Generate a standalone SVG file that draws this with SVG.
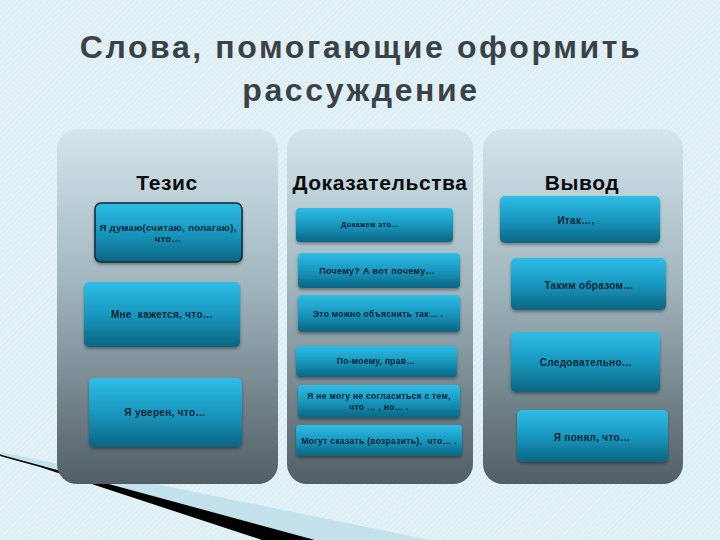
<svg xmlns="http://www.w3.org/2000/svg" width="720" height="540" viewBox="0 0 720 540">
<defs>
<pattern id="stripes" width="4" height="4" patternUnits="userSpaceOnUse" patternTransform="rotate(45)">
<rect width="4" height="4" fill="#ddeff5"/>
<line x1="0" y1="0" x2="0" y2="4" stroke="#ffffff" stroke-width="1.2" opacity="0.55"/>
</pattern>
<linearGradient id="panelG" x1="0" y1="0" x2="0" y2="1">
<stop offset="0" stop-color="#d3e6ec"/>
<stop offset="0.45" stop-color="#a0b4bc"/>
<stop offset="1" stop-color="#515e65"/>
</linearGradient>
<linearGradient id="boxG" x1="0" y1="0" x2="0" y2="1">
<stop offset="0" stop-color="#2fbde6"/>
<stop offset="0.5" stop-color="#1898bf"/>
<stop offset="1" stop-color="#0a6582"/>
</linearGradient>
<filter id="sh" x="-10%" y="-10%" width="120%" height="130%">
<feDropShadow dx="0" dy="2" stdDeviation="1.5" flood-color="#000" flood-opacity="0.35"/>
</filter>
</defs>
<style>
.panel{fill:url(#panelG)}
.box{fill:url(#boxG);filter:url(#sh)}
.hd{font-family:"Liberation Sans",Arial,sans-serif;font-weight:bold;font-size:21px;fill:#0b0b0b;text-anchor:middle;letter-spacing:0.6px}
.t{font-family:"Liberation Sans",Arial,sans-serif;font-weight:bold;fill:#0e2434;text-anchor:middle;letter-spacing:0.3px}
.title{font-family:"Liberation Sans",Arial,sans-serif;font-weight:bold;font-size:32px;fill:#3b4246;text-anchor:middle;letter-spacing:2.6px}
</style>
<rect width="720" height="540" fill="url(#stripes)"/>
<polygon points="0,452 430,540 315,540 0,455" fill="#c3e2ec"/>
<polygon points="0,454.5 315,540 262,540 40,467 0,456" fill="#000"/>

<text class="title" x="361" y="58">Слова, помогающие оформить</text>
<text class="title" x="361" y="101">рассуждение</text>

<g id="col-tezis">
<rect class="panel" x="57" y="129" width="221" height="355" rx="20"/>
<text class="hd" x="167" y="190">Тезис</text>
</g>
<g id="col-dokaz">
<rect class="panel" x="287" y="129" width="186" height="355" rx="20"/>
<text class="hd" x="380" y="190">Доказательства</text>
</g>
<g id="col-vyvod">
<rect class="panel" x="483" y="129" width="200" height="355" rx="20"/>
<text class="hd" x="582" y="190">Вывод</text>
</g>

<g id="t1">
<rect class="box" x="95" y="203" width="147" height="59" rx="6" stroke="#16262e" stroke-width="1.5"/>
<text class="t" font-size="9.5" x="168" y="231">Я думаю(считаю, полагаю),</text>
<text class="t" font-size="9.5" x="168" y="242">что…</text>
</g>
<g id="t2">
<rect class="box" x="84" y="282" width="156" height="65" rx="5"/>
<text class="t" font-size="10" x="162" y="318" xml:space="preserve">Мне  кажется, что…</text>
</g>
<g id="t3">
<rect class="box" x="89" y="378" width="153" height="69" rx="5"/>
<text class="t" font-size="10" x="165" y="416">Я уверен, что…</text>
</g>

<g id="d1">
<rect class="box" x="296" y="208" width="157" height="34" rx="4"/>
<text class="t" font-size="7.5" x="370" y="227">Докажем это…</text>
</g>
<g id="d2">
<rect class="box" x="298" y="253" width="162" height="35" rx="4"/>
<text class="t" font-size="9" x="377" y="274">Почему? А вот почему…</text>
</g>
<g id="d3">
<rect class="box" x="298" y="295" width="162" height="37" rx="4"/>
<text class="t" font-size="8.5" x="378" y="317">Это можно объяснить так… .</text>
</g>
<g id="d4">
<rect class="box" x="296" y="346" width="161" height="31" rx="4"/>
<text class="t" font-size="8.5" x="376" y="364">По-моему, прав…</text>
</g>
<g id="d5">
<rect class="box" x="298" y="385" width="162" height="33" rx="4"/>
<text class="t" font-size="8.5" x="379" y="399">Я не могу не согласиться с тем,</text>
<text class="t" font-size="8.5" x="379" y="410">что … , но… .</text>
</g>
<g id="d6">
<rect class="box" x="296" y="425" width="166" height="31" rx="4"/>
<text class="t" font-size="8.5" x="379" y="444" xml:space="preserve">Могут сказать (возразить),  что… .</text>
</g>

<g id="v1">
<rect class="box" x="500" y="196" width="160" height="47" rx="5"/>
<text class="t" font-size="10" x="576" y="224">Итак…,</text>
</g>
<g id="v2">
<rect class="box" x="511" y="258" width="155" height="52" rx="5"/>
<text class="t" font-size="10" x="589" y="289">Таким образом…</text>
</g>
<g id="v3">
<rect class="box" x="511" y="332" width="149" height="60" rx="5"/>
<text class="t" font-size="10" x="586" y="366">Следовательно…</text>
</g>
<g id="v4">
<rect class="box" x="517" y="410" width="151" height="52" rx="5"/>
<text class="t" font-size="10" x="592" y="441">Я понял, что…</text>
</g>
<g id="connectors"/>
</svg>
